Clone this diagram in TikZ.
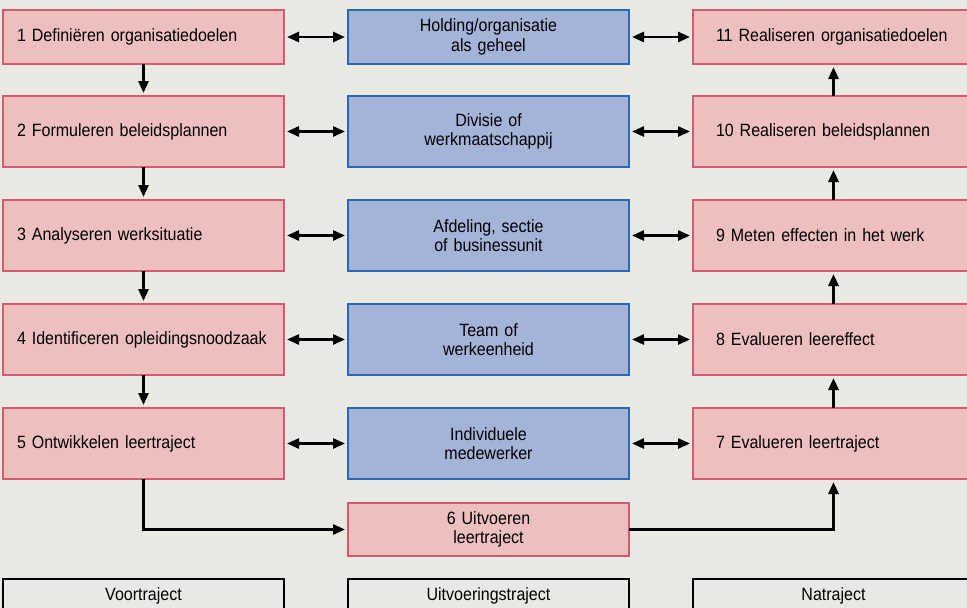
\documentclass[tikz,border=0pt]{standalone}
\usepackage{fontspec}
\setmainfont{Liberation Sans}[FakeStretch=0.9, WordSpace=0.8]
\usetikzlibrary{arrows.meta}
\definecolor{bg}{HTML}{E9E9E4}
\definecolor{pfill}{HTML}{EDBFBF}
\definecolor{pdraw}{HTML}{D65A6E}
\definecolor{bfill}{HTML}{A4B4D8}
\definecolor{bdraw}{HTML}{2A6AB0}
\begin{document}
\begin{tikzpicture}[x=1pt,y=-1pt,
  font=\fontsize{17.8}{19.5}\selectfont,
  box/.style={draw, line width=1.8pt, minimum width=281pt, anchor=north west,
    inner ysep=0pt, outer sep=0pt},
  lbox/.style={box, fill=pfill, draw=pdraw, inner xsep=14pt, text width=253pt, align=left},
  rbox/.style={box, fill=pfill, draw=pdraw, inner xsep=23pt, text width=235pt, align=left},
  mbox/.style={box, fill=bfill, draw=bdraw, inner xsep=4pt, text width=273pt, align=center},
  sbox/.style={box, fill=pfill, draw=pdraw, inner xsep=4pt, text width=273pt, align=center},
  fbox/.style={box, fill=bg, draw=black, line width=1.2pt, inner xsep=4pt, text width=273pt, align=center},
  tip/.tip={Triangle[length=12pt,width=10pt]},
  arr/.style={line width=2.6pt, -tip, shorten >=3pt},
  darr/.style={line width=2.6pt, tip-tip, shorten >=3pt, shorten <=3pt}
]
\clip (0,0) rectangle (967,608);
\fill[bg] (0,0) rectangle (967,608);

% left column
\node[lbox, minimum height=54pt] (l1) at (3,10) {1 Definiëren organisatiedoelen};
\node[lbox, minimum height=71pt] (l2) at (3,96) {2 Formuleren beleidsplannen};
\node[lbox, minimum height=71pt] (l3) at (3,200) {3 Analyseren werksituatie};
\node[lbox, minimum height=71pt] (l4) at (3,304) {4 Identificeren opleidingsnoodzaak};
\node[lbox, minimum height=71pt] (l5) at (3,408) {5 Ontwikkelen leertraject};

% middle column
\node[mbox, minimum height=54pt] (m1) at (348,10) {Holding/organisatie\\als geheel};
\node[mbox, minimum height=71pt] (m2) at (348,96) {Divisie of\\werkmaatschappij};
\node[mbox, minimum height=71pt] (m3) at (348,200) {Afdeling, sectie\\of businessunit};
\node[mbox, minimum height=71pt] (m4) at (348,304) {Team of\\werkeenheid};
\node[mbox, minimum height=71pt] (m5) at (348,408) {Individuele\\medewerker};

% right column
\node[rbox, minimum height=54pt] (r11) at (693,10) {11 Realiseren organisatiedoelen};
\node[rbox, minimum height=71pt] (r10) at (693,96) {10 Realiseren beleidsplannen};
\node[rbox, minimum height=71pt] (r9) at (693,200) {9 Meten effecten in het werk};
\node[rbox, minimum height=71pt] (r8) at (693,304) {8 Evalueren leereffect};
\node[rbox, minimum height=71pt] (r7) at (693,408) {7 Evalueren leertraject};

% execution
\node[sbox, minimum height=53pt] (s6) at (348,503) {6 Uitvoeren\\leertraject};

% footer
\node[fbox, minimum height=34pt] (f1) at (3,579) {Voortraject};
\node[fbox, minimum height=34pt] (f2) at (348,579) {Uitvoeringstraject};
\node[fbox, minimum height=34pt] (f3) at (693,579) {Natraject};

% vertical arrows
\draw[arr] (l1.south) -- (l2.north);
\draw[arr] (l2.south) -- (l3.north);
\draw[arr] (l3.south) -- (l4.north);
\draw[arr] (l4.south) -- (l5.north);
\draw[arr] (r7.north) -- (r8.south);
\draw[arr] (r8.north) -- (r9.south);
\draw[arr] (r9.north) -- (r10.south);
\draw[arr] (r10.north) -- (r11.south);

% horizontal double arrows
\foreach \i/\j in {l1/m1,l2/m2,l3/m3,l4/m4,l5/m5,m1/r11,m2/r10,m3/r9,m4/r8,m5/r7}
  \draw[darr] (\i.east) -- (\j.west);

% bottom route
\draw[arr, line join=miter] (l5.south) |- (s6.west);
\draw[arr, line join=miter] (s6.east) -| (r7.south);
\end{tikzpicture}
\end{document}
